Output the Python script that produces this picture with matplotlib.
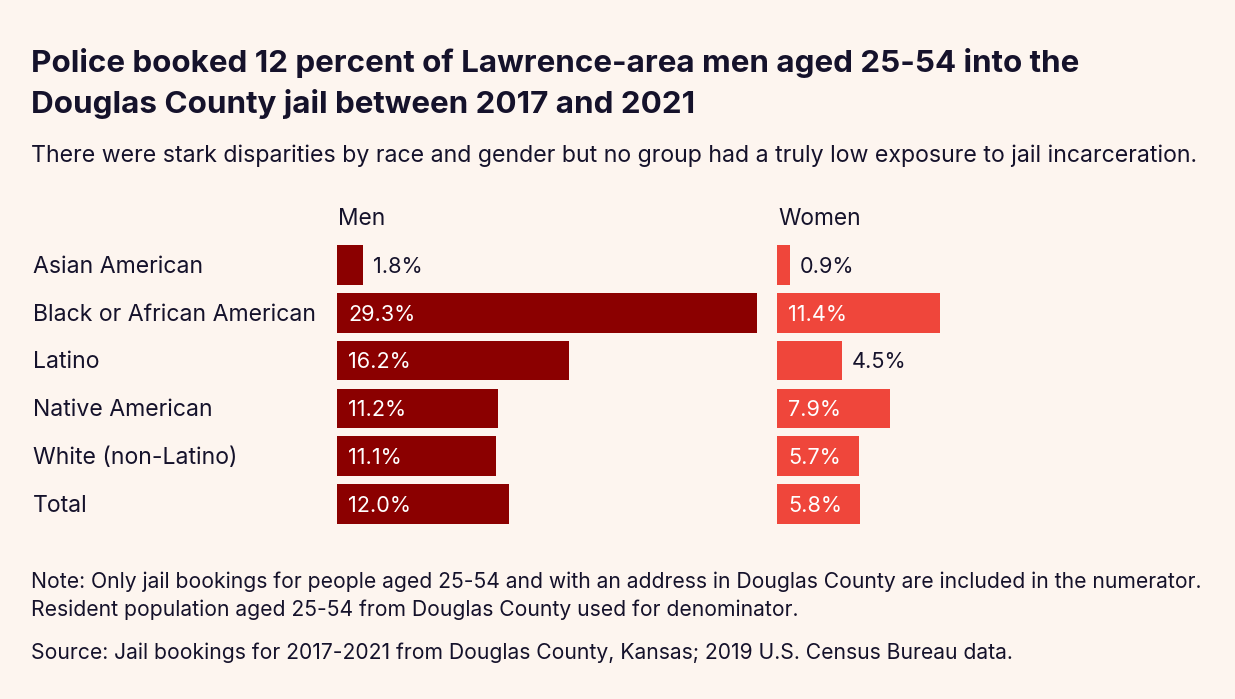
import matplotlib.pyplot as plt

groups = ["Asian American", "Black or African American", "Latino",
          "Native American", "White (non-Latino)", "Total"]
men = [1.8, 29.3, 16.2, 11.2, 11.1, 12.0]
women = [0.9, 11.4, 4.5, 7.9, 5.7, 5.8]

title = ["Police booked 12 percent of Lawrence-area men aged 25-54 into the",
         "Douglas County jail between 2017 and 2021"]
subtitle = ("There were stark disparities by race and gender but no group had a "
            "truly low exposure to jail incarceration.")
note = ["Note: Only jail bookings for people aged 25-54 and with an address in "
        "Douglas County are included in the numerator.",
        "Resident population aged 25-54 from Douglas County used for denominator."]
source = ("Source: Jail bookings for 2017-2021 from Douglas County, Kansas; "
          "2019 U.S. Census Bureau data.")

BG = "#fdf5ef"
INK = "#15122b"
MEN_C = "#8b0000"
WOMEN_C = "#ef463b"

plt.rcParams['font.family'] = ['Inter', 'DejaVu Sans']

W, H = 1235, 699
fig = plt.figure(figsize=(W / 100, H / 100), dpi=100)
fig.patch.set_facecolor(BG)


def fx(x):
    return x / W


def fy(y):
    return 1 - y / H


# bar panels, in pixel layout
top, bottom = 241, 528
panel_w = 420
axes = []
for left in (337, 777):
    ax = fig.add_axes([fx(left), fy(bottom), fx(panel_w), (bottom - top) / H])
    ax.set_xlim(0, 29.3)
    ax.set_ylim(len(groups) - 0.5, -0.5)
    ax.axis('off')
    axes.append(ax)

dy = 0.04  # nudge text a touch lower so it sits optically centred
for ax, vals, col, head in ((axes[0], men, MEN_C, "Men"),
                            (axes[1], women, WOMEN_C, "Women")):
    ypos = range(len(vals))
    ax.barh(ypos, vals, height=0.83, color=col)
    for i, v in zip(ypos, vals):
        if v >= 5:
            ax.text(0.8, i + dy, f"{v:.1f}%", va='center', ha='left',
                    color='white', fontsize=15.6)
        else:
            ax.text(v + 0.7, i + dy, f"{v:.1f}%", va='center', ha='left',
                    color=INK, fontsize=15.6)
    ax.text(0.1, -0.5 - 0.47, head, va='center', ha='left', color=INK,
            fontsize=16.4)

lab_x = (33 - 337) / panel_w
for i, g in enumerate(groups):
    axes[0].text(lab_x, i + dy, g, transform=axes[0].get_yaxis_transform(),
                 va='center', ha='left', color=INK, fontsize=16.6)

fig.text(fx(31), fy(63), title[0], ha='left', va='center', color=INK,
         fontsize=22.6, fontweight='bold')
fig.text(fx(31), fy(104), title[1], ha='left', va='center', color=INK,
         fontsize=22.6, fontweight='bold')
fig.text(fx(31), fy(156), subtitle, ha='left', va='center', color=INK,
         fontsize=16.65)
fig.text(fx(31), fy(582), note[0], ha='left', va='center', color=INK,
         fontsize=15.2)
fig.text(fx(31), fy(610), note[1], ha='left', va='center', color=INK,
         fontsize=15.2)
fig.text(fx(31), fy(653), source, ha='left', va='center', color=INK,
         fontsize=15.2)

fig.savefig("out.png", dpi=100, facecolor=BG)
